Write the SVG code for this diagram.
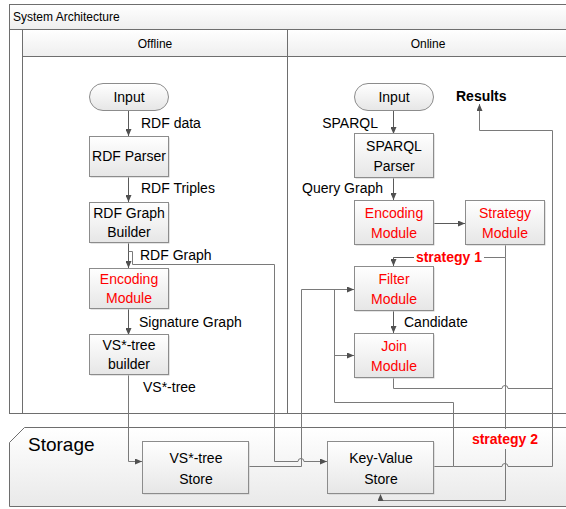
<svg xmlns="http://www.w3.org/2000/svg" width="566" height="509" viewBox="0 0 566 509">
<defs>
<linearGradient id="boxg" x1="0" y1="0" x2="0" y2="1"><stop offset="0" stop-color="#ffffff"/><stop offset="1" stop-color="#e6e6e6"/></linearGradient>
<linearGradient id="barg" x1="0" y1="0" x2="0" y2="1"><stop offset="0" stop-color="#ffffff"/><stop offset="1" stop-color="#eeeeee"/></linearGradient>
<linearGradient id="storg" x1="0" y1="0" x2="0" y2="1"><stop offset="0" stop-color="#ffffff"/><stop offset="1" stop-color="#e9e9e9"/></linearGradient>
<marker id="arr" markerWidth="7" markerHeight="6" refX="7" refY="3" orient="auto" markerUnits="userSpaceOnUse"><path d="M0,0 L7,3 L0,6 z" fill="#505050"/></marker>
</defs>
<style>
.frame{fill:none;stroke:#6e6e6e;stroke-width:1}
.box{fill:url(#boxg);stroke:#8c8c8c;stroke-width:1}
.shadow{fill:#c9c9c9}
.t{font-family:"Liberation Sans",Arial,sans-serif;font-size:14px;fill:#000}
.red{fill:#ff0000}
.b{font-weight:bold}
.hdr{font-family:"Liberation Sans",Arial,sans-serif;font-size:12px;fill:#000}
.c{fill:none;stroke:#5a5a5a;stroke-width:1}
.cl{fill:none;stroke:#7a7a7a;stroke-width:1}
</style>
<rect x="0" y="0" width="566" height="509" fill="#ffffff"/>
<g id="frame">
<rect x="9.5" y="4.5" width="570" height="409" fill="#ffffff" stroke="#6e6e6e"/>
<rect x="9.5" y="4.5" width="570" height="25" fill="url(#barg)" stroke="#6e6e6e"/>
<rect x="22.5" y="29.5" width="560" height="27" fill="url(#barg)" stroke="#6e6e6e"/>
<line class="frame" x1="22.5" y1="29.5" x2="22.5" y2="413.5"/>
<line class="frame" x1="287.5" y1="29.5" x2="287.5" y2="413.5"/>
<text class="hdr" x="13" y="21">System Architecture</text>
<text class="hdr" x="155" y="48" text-anchor="middle">Offline</text>
<text class="hdr" x="428" y="48" text-anchor="middle">Online</text>
</g>
<g id="storage">
<path d="M9.5 442.5 L24.5 427.5 L580 427.5 L580 506.5 L9.5 506.5 Z" fill="url(#storg)" stroke="#6e6e6e"/>
<text x="28" y="451" font-family="Liberation Sans,Arial,sans-serif" font-size="19" fill="#000">Storage</text>
</g>
<g id="connectors">
<path class="c" d="M128.5 110 V136" marker-end="url(#arr)"/>
<path class="c" d="M128.5 176 V202" marker-end="url(#arr)"/>
<path class="c" d="M128.5 242 V268" marker-end="url(#arr)"/>
<path class="c" d="M128.5 308 V335" marker-end="url(#arr)"/>
<path class="cl" d="M128.5 251.5 H132.5 V264.5 H274.5 V461.5 H298 A3 3 0 0 1 304 461.5 H327" marker-end="url(#arr)"/>
<path class="cl" d="M128.5 374 V461.5 H142" marker-end="url(#arr)"/>
<path class="cl" d="M248 466.5 H301.5 V289.5 H354" marker-end="url(#arr)"/>
<path class="cl" d="M433 466.5 H453.5 V402.5 H334.5 V289.5"/>
<path class="cl" d="M334.5 355.5 H354" marker-end="url(#arr)"/>
<path class="cl" d="M453.5 466.5 H502 A3 3 0 0 1 508 466.5 H552.5 V130.5 H479.5 V104" marker-end="url(#arr)"/>
<path class="cl" d="M393.5 377 V388.5 H502 A3 3 0 0 1 508 388.5 H552.5"/>
<path class="c" d="M393.5 110 V134" marker-end="url(#arr)"/>
<path class="c" d="M393.5 178 V200" marker-end="url(#arr)"/>
<path class="c" d="M433 223.5 H465" marker-end="url(#arr)"/>
<path class="c" d="M393.5 311 V333" marker-end="url(#arr)"/>
<path class="cl" d="M505.5 245 V257.5 H484"/>
<path class="c" d="M414 257.5 H393.5 V266" marker-end="url(#arr)"/>
<path class="cl" d="M505.5 257.5 V429"/>
<path class="cl" d="M505.5 449 V500.5 H380.5 V494" marker-end="url(#arr)"/>
</g>
<g id="labels">
<text class="t" x="141" y="128">RDF data</text>
<text class="t" x="141" y="193">RDF Triples</text>
<text class="t" x="140" y="260">RDF Graph</text>
<text class="t" x="139" y="327">Signature Graph</text>
<text class="t" x="143" y="392">VS*-tree</text>
<text class="t" x="378" y="128" text-anchor="end">SPARQL</text>
<text class="t" x="383" y="193" text-anchor="end">Query Graph</text>
<text class="t" x="404" y="327">Candidate</text>
<text class="t b" x="456" y="101">Results</text>
<text class="t b red" x="449" y="262" text-anchor="middle">strategy 1</text>
<text class="t b red" x="505" y="444" text-anchor="middle">strategy 2</text>
</g>
<g id="in-off">
<rect x="89.5" y="83.5" width="79" height="27" rx="13.5" class="box"/>
<text class="t" x="129" y="102" text-anchor="middle">Input</text>
</g>
<g id="rdf-parser">
<rect x="90.5" y="137.5" width="79" height="40" class="shadow"/>
<rect x="89.5" y="136.5" width="79" height="40" class="box"/>
<text class="t" x="129" y="161" text-anchor="middle">RDF Parser</text>
</g>
<g id="rdf-builder">
<rect x="90.5" y="203.5" width="79" height="40" class="shadow"/>
<rect x="89.5" y="202.5" width="79" height="40" class="box"/>
<text class="t" x="129" y="218" text-anchor="middle">RDF Graph</text>
<text class="t" x="129" y="237" text-anchor="middle">Builder</text>
</g>
<g id="enc-off">
<rect x="90.5" y="269.5" width="79" height="40" class="shadow"/>
<rect x="89.5" y="268.5" width="79" height="40" class="box"/>
<text class="t red" x="129" y="284" text-anchor="middle">Encoding</text>
<text class="t red" x="129" y="303" text-anchor="middle">Module</text>
</g>
<g id="vs-builder">
<rect x="90.5" y="335.5" width="79" height="40" class="shadow"/>
<rect x="89.5" y="334.5" width="79" height="40" class="box"/>
<text class="t" x="129" y="350" text-anchor="middle">VS*-tree</text>
<text class="t" x="129" y="369" text-anchor="middle">builder</text>
</g>
<g id="in-on">
<rect x="354.5" y="83.5" width="79" height="27" rx="13.5" class="box"/>
<text class="t" x="394" y="102" text-anchor="middle">Input</text>
</g>
<g id="sparql-parser">
<rect x="355.5" y="134.5" width="79" height="44" class="shadow"/>
<rect x="354.5" y="133.5" width="79" height="44" class="box"/>
<text class="t" x="394" y="151" text-anchor="middle">SPARQL</text>
<text class="t" x="394" y="171" text-anchor="middle">Parser</text>
</g>
<g id="enc-on">
<rect x="355.5" y="201.5" width="79" height="44" class="shadow"/>
<rect x="354.5" y="200.5" width="79" height="44" class="box"/>
<text class="t red" x="394" y="218" text-anchor="middle">Encoding</text>
<text class="t red" x="394" y="238" text-anchor="middle">Module</text>
</g>
<g id="strategy">
<rect x="466.5" y="201.5" width="79" height="44" class="shadow"/>
<rect x="465.5" y="200.5" width="79" height="44" class="box"/>
<text class="t red" x="505" y="218" text-anchor="middle">Strategy</text>
<text class="t red" x="505" y="238" text-anchor="middle">Module</text>
</g>
<g id="filter">
<rect x="355.5" y="267.5" width="79" height="44" class="shadow"/>
<rect x="354.5" y="266.5" width="79" height="44" class="box"/>
<text class="t red" x="394" y="284" text-anchor="middle">Filter</text>
<text class="t red" x="394" y="304" text-anchor="middle">Module</text>
</g>
<g id="join">
<rect x="355.5" y="334.5" width="79" height="44" class="shadow"/>
<rect x="354.5" y="333.5" width="79" height="44" class="box"/>
<text class="t red" x="394" y="351" text-anchor="middle">Join</text>
<text class="t red" x="394" y="371" text-anchor="middle">Module</text>
</g>
<g id="vs-store">
<rect x="143.5" y="442.5" width="106" height="52" class="shadow"/>
<rect x="142.5" y="441.5" width="106" height="52" class="box"/>
<text class="t" x="196" y="463" text-anchor="middle">VS*-tree</text>
<text class="t" x="196" y="484" text-anchor="middle">Store</text>
</g>
<g id="kv-store">
<rect x="328.5" y="442.5" width="106" height="52" class="shadow"/>
<rect x="327.5" y="441.5" width="106" height="52" class="box"/>
<text class="t" x="381" y="463" text-anchor="middle">Key-Value</text>
<text class="t" x="381" y="484" text-anchor="middle">Store</text>
</g>
</svg>
